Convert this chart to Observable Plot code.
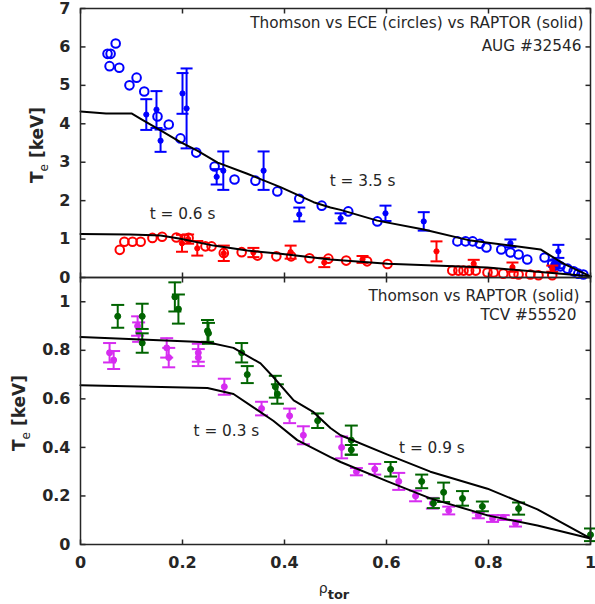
<!DOCTYPE html>
<html><head><meta charset="utf-8">
<script src="https://cdn.jsdelivr.net/npm/d3@7"></script>
<script src="https://cdn.jsdelivr.net/npm/@observablehq/plot@0.6"></script>
<style>
body{margin:0;background:#fff;}
#wrap{position:relative;width:595px;height:604px;font-family:"DejaVu Sans",sans-serif;color:#262626;overflow:hidden;}
.panel{position:absolute;left:0;}
.ylab{position:absolute;font-weight:bold;font-size:17px;white-space:nowrap;transform:translate(-50%,-50%) rotate(-90deg);line-height:1;}
.ylab sub{font-weight:normal;font-size:12px;vertical-align:-5px;}
.xlab{position:absolute;white-space:nowrap;transform:translateX(-50%);font-size:14px;line-height:1;}
.xlab sub{font-weight:bold;font-size:13px;vertical-align:-6px;}
</style></head><body><div id="wrap"></div>
<script>
// ---------- data ----------
// AUG #32546 : ECE circles [rho, Te]
const ece35 = [[0.053,5.82],[0.059,5.82],[0.069,6.09],[0.057,5.50],[0.076,5.46],[0.096,5.00],[0.110,5.20],[0.125,4.84],[0.151,4.19],[0.173,3.98],[0.196,3.62],[0.227,3.25],[0.263,2.89],[0.302,2.55],[0.343,2.52],[0.386,2.24],[0.429,2.05],[0.473,1.87],[0.525,1.72],[0.582,1.46],[0.739,0.94],[0.755,0.94],[0.769,0.94],[0.783,0.88],[0.796,0.78],[0.825,0.73],[0.843,0.65],[0.859,0.60],[0.876,0.47],[0.910,0.52],[0.925,0.36],[0.931,0.31],[0.941,0.29],[0.955,0.23],[0.967,0.16],[0.976,0.10],[0.986,0.08]];
const ece06 = [[0.077,0.72],[0.086,0.93],[0.102,0.93],[0.118,0.93],[0.141,1.03],[0.160,1.06],[0.188,1.04],[0.212,1.03],[0.245,0.81],[0.257,0.81],[0.281,0.64],[0.316,0.66],[0.347,0.57],[0.384,0.55],[0.413,0.55],[0.449,0.50],[0.486,0.49],[0.521,0.44],[0.562,0.42],[0.602,0.35],[0.729,0.18],[0.741,0.18],[0.751,0.18],[0.762,0.18],[0.775,0.18],[0.798,0.13],[0.810,0.13],[0.829,0.10],[0.849,0.10],[0.859,0.08],[0.882,0.08],[0.898,0.06],[0.925,0.06]];
// Thomson [rho, Te, err]
const th35 = [[0.129,4.24,0.40],[0.149,4.37,0.48],[0.157,3.56,0.29],[0.200,4.79,0.53],[0.208,4.40,1.04],[0.267,2.62,0.20],[0.280,2.78,0.50],[0.359,2.78,0.50],[0.429,1.64,0.18],[0.510,1.54,0.13],[0.598,1.67,0.20],[0.673,1.46,0.24],[0.843,0.89,0.10],[0.937,0.68,0.17],[0.929,0.36,0.08],[0.935,0.30,0.06]];
const th06 = [[0.199,0.89,0.22],[0.211,1.00,0.12],[0.229,0.76,0.19],[0.281,0.63,0.20],[0.339,0.65,0.12],[0.412,0.66,0.17],[0.478,0.39,0.12],[0.553,0.47,0.09],[0.698,0.68,0.26],[0.771,0.36,0.10],[0.847,0.27,0.12],[0.925,0.23,0.08]];
// RAPTOR
const raptor35 = [[0,4.32],[0.05,4.27],[0.10,4.27],[0.118,4.13],[0.157,3.83],[0.196,3.52],[0.229,3.30],[0.269,2.99],[0.327,2.70],[0.392,2.35],[0.457,1.96],[0.49,1.82],[0.51,1.76],[0.582,1.48],[0.673,1.25],[0.765,0.96],[0.843,0.83],[0.902,0.73],[0.947,0.36],[1.0,0.03]];
const raptor06 = [[0,1.13],[0.098,1.12],[0.157,1.09],[0.196,1.01],[0.261,0.83],[0.327,0.70],[0.392,0.62],[0.49,0.47],[0.602,0.36],[0.798,0.26],[1.0,0.03]];
// TCV #55520
const raptor09 = [[0,0.855],[0.249,0.833],[0.30,0.81],[0.353,0.746],[0.378,0.69],[0.418,0.594],[0.457,0.545],[0.49,0.48],[0.51,0.45],[0.602,0.37],[0.686,0.30],[0.798,0.23],[0.896,0.145],[1.0,0.025]];
const raptor03 = [[0,0.656],[0.249,0.645],[0.30,0.62],[0.339,0.565],[0.378,0.51],[0.425,0.43],[0.49,0.36],[0.51,0.34],[0.602,0.26],[0.686,0.19],[0.798,0.12],[0.896,0.078],[1.0,0.025]];
const th09 = [[0.073,0.94,0.047],[0.121,0.94,0.052],[0.121,0.83,0.04],[0.185,1.02,0.06],[0.192,0.97,0.06],[0.249,0.88,0.045],[0.251,0.87,0.043],[0.316,0.79,0.04],[0.327,0.70,0.035],[0.382,0.65,0.045],[0.386,0.62,0.04],[0.465,0.51,0.03],[0.531,0.43,0.06],[0.531,0.39,0.02],[0.608,0.31,0.03],[0.669,0.26,0.028],[0.692,0.17,0.02],[0.712,0.215,0.04],[0.749,0.19,0.03],[0.788,0.157,0.02],[0.859,0.148,0.025],[1.0,0.04,0.026]];
const th03 = [[0.057,0.79,0.04],[0.065,0.76,0.037],[0.112,0.90,0.04],[0.114,0.875,0.04],[0.169,0.81,0.04],[0.173,0.77,0.04],[0.231,0.79,0.037],[0.231,0.77,0.035],[0.282,0.65,0.033],[0.355,0.56,0.028],[0.41,0.53,0.03],[0.437,0.45,0.037],[0.512,0.40,0.045],[0.541,0.30,0.015],[0.577,0.31,0.022],[0.624,0.26,0.035],[0.657,0.20,0.022],[0.69,0.17,0.022],[0.722,0.14,0.016],[0.780,0.12,0.012],[0.808,0.107,0.014],[0.829,0.111,0.01],[0.853,0.087,0.013]];
// ticks & labels
const xTicks = [0,0.2,0.4,0.6,0.8,1];
const yTicksTop = [0,1,2,3,4,5,6,7];
const yTicksBot = [0,0.2,0.4,0.6,0.8,1];
const titleTop = ["Thomson vs ECE (circles) vs RAPTOR (solid)", "AUG #32546"];
const titleBot = ["Thomson vs RAPTOR (solid)", "TCV #55520"];
const timeLabels = ["t = 3.5 s", "t = 0.6 s", "t = 0.3 s", "t = 0.9 s"];

// ---------- helpers ----------
const AX = "#262626";
const BLUE = "#0000ff", RED = "#ff0000", GREEN = "#006400", MAG = "#d62cf0";
const fmt = d => (d === 0 || d === 1) ? String(d) : d.toFixed(1);
const lineSym = (dx, dy, both) => ({draw(ctx, size){const l = Math.sqrt(size/Math.PI); ctx.moveTo(both ? -dx*l : 0, both ? -dy*l : 0); ctx.lineTo(dx*l, dy*l);}});
const capSym = lineSym(1, 0, true);

function frameTicks(yt) {
  const s = {stroke: AX, strokeWidth: 1.5, fill: "none", r: 5};
  return [
    Plot.dot(xTicks, {x: d => d, frameAnchor: "bottom", symbol: lineSym(0, -1), ...s}),
    Plot.dot(xTicks, {x: d => d, frameAnchor: "top", symbol: lineSym(0, 1), ...s}),
    Plot.dot(yt, {y: d => d, frameAnchor: "left", symbol: lineSym(1, 0), ...s}),
    Plot.dot(yt, {y: d => d, frameAnchor: "right", symbol: lineSym(-1, 0), ...s})
  ];
}
function thomson(data, color, capR, dotR) {
  return [
    Plot.ruleX(data, {x: d => d[0], y1: d => d[1] - d[2], y2: d => d[1] + d[2], stroke: color, strokeWidth: 2}),
    Plot.dot(data, {x: d => d[0], y: d => d[1] - d[2], symbol: capSym, r: capR, stroke: color, fill: "none", strokeWidth: 2}),
    Plot.dot(data, {x: d => d[0], y: d => d[1] + d[2], symbol: capSym, r: capR, stroke: color, fill: "none", strokeWidth: 2}),
    Plot.dot(data, {x: d => d[0], y: d => d[1], r: dotR, fill: color, stroke: color, strokeWidth: 1})
  ];
}
const raptorLine = data => Plot.line(data, {x: d => d[0], y: d => d[1], stroke: "black", strokeWidth: 2});
const style = {fontFamily: "DejaVu Sans", fontSize: "16px", fontWeight: "bold", color: AX, background: "transparent", overflow: "visible"};
const txt = {fontSize: 15.3, fontWeight: "normal", fill: AX, fontFamily: "DejaVu Sans"};

const wrap = document.getElementById("wrap");

// ---------- bottom panel (TCV) ----------
const bottomPlot = Plot.plot({
  width: 595, height: 334,
  marginTop: 7, marginBottom: 60, marginLeft: 80, marginRight: 5,
  style,
  x: {domain: [0, 1], axis: null},
  y: {domain: [0, 1.1], axis: null},
  marks: [
    ...thomson(th03, MAG, 6.5, 3),
    ...thomson(th09, GREEN, 6.5, 3),
    raptorLine(raptor09),
    raptorLine(raptor03),
    Plot.text([timeLabels[2]], {x: 0.286, y: 0.466, ...txt}),
    Plot.text([timeLabels[3]], {x: 0.689, y: 0.396, ...txt}),
    Plot.text([titleBot[0]], {frameAnchor: "top-right", textAnchor: "end", lineAnchor: "middle", dx: -11, dy: 19, ...txt}),
    Plot.text([titleBot[1]], {frameAnchor: "top-right", textAnchor: "end", lineAnchor: "middle", dx: -14, dy: 38, ...txt}),
    Plot.frame({stroke: AX, strokeWidth: 1.5}),
    ...frameTicks(yTicksBot),
    Plot.axisX(xTicks, {tickSize: 0, tickPadding: 12, tickFormat: fmt, fontSize: 16, fontWeight: "bold", label: null, fill: AX}),
    Plot.axisY(yTicksBot, {tickSize: 0, tickPadding: 10, tickFormat: fmt, fontSize: 16, fontWeight: "bold", label: null, fill: AX})
  ]
});
bottomPlot.classList.add("panel");
bottomPlot.style.top = "270px";
wrap.appendChild(bottomPlot);

// ---------- top panel (AUG) ----------
const topPlot = Plot.plot({
  width: 595, height: 280,
  marginTop: 8, marginBottom: 3, marginLeft: 80, marginRight: 5,
  style,
  x: {domain: [0, 1], axis: null},
  y: {domain: [0, 7], axis: null},
  marks: [
    Plot.dot(ece35, {x: d => d[0], y: d => d[1], r: 4.3, stroke: BLUE, strokeWidth: 2, fill: "none"}),
    Plot.dot(ece06, {x: d => d[0], y: d => d[1], r: 4.3, stroke: RED, strokeWidth: 2, fill: "none"}),
    ...thomson(th35, BLUE, 6, 2.6),
    ...thomson(th06, RED, 6, 2.6),
    raptorLine(raptor35),
    raptorLine(raptor06),
    Plot.text([timeLabels[0]], {x: 0.553, y: 2.5, ...txt}),
    Plot.text([timeLabels[1]], {x: 0.20, y: 1.64, ...txt}),
    Plot.text([titleTop[0]], {frameAnchor: "top-right", textAnchor: "end", lineAnchor: "middle", dx: -7, dy: 15, ...txt}),
    Plot.text([titleTop[1]], {frameAnchor: "top-right", textAnchor: "end", lineAnchor: "middle", dx: -9, dy: 38, ...txt}),
    Plot.frame({stroke: AX, strokeWidth: 1.5}),
    ...frameTicks(yTicksTop),
    Plot.axisY(yTicksTop, {tickSize: 0, tickPadding: 10, fontSize: 16, fontWeight: "bold", label: null, fill: AX})
  ]
});
topPlot.classList.add("panel");
topPlot.style.top = "0px";
wrap.appendChild(topPlot);

// ---------- axis labels ----------
function addLabel(cls, html, x, y) {
  const d = document.createElement("div");
  d.className = cls; d.innerHTML = html;
  d.style.left = x + "px"; d.style.top = y + "px";
  wrap.appendChild(d);
}
addLabel("ylab", "T<sub>e</sub> [keV]", 39, 145);
addLabel("ylab", "T<sub>e</sub> [keV]", 21, 413);
addLabel("xlab", "ρ<sub>tor</sub>", 334, 581);
</script>
</body></html>
